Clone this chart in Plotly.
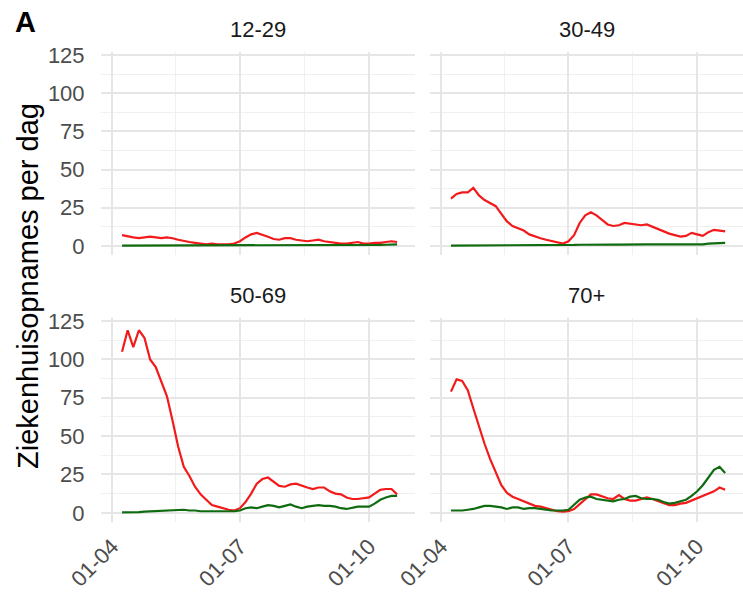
import pandas as pd
import plotly.graph_objects as go
from plotly.subplots import make_subplots

# ---- data -------------------------------------------------------------
start_date = "2021-04-08"
n_points = 50
step = "4D"
dates = pd.date_range(start_date, periods=n_points, freq=step)

panel_titles = ["12-29", "30-49", "50-69", "70+"]
x_tick_dates = ["2021-04-01", "2021-07-01", "2021-10-01"]
y_ticks = [0, 25, 50, 75, 100, 125]

unvacc_12_29 = [7, 6, 5.5, 5, 5.5, 6, 5.5, 5, 5.5, 5,
                4, 3, 2.5, 2, 1.5, 1, 1.5, 1, 1, 1,
                1.5, 3, 5.5, 7.5, 8.5, 7.5, 6, 4.5, 4, 5,
                5, 4, 3.5, 3, 3.5, 4, 3, 2.5, 2, 1.5,
                1.5, 2, 2.5, 1.5, 1.5, 2, 2, 2.5, 3, 2.5]
vacc_12_29 = [0.2, 0.2, 0.2, 0.2, 0.2, 0.2, 0.2, 0.2, 0.2, 0.2,
              0.2, 0.3, 0.3, 0.3, 0.3, 0.3, 0.3, 0.3, 0.3, 0.3,
              0.3, 0.3, 0.4, 0.4, 0.4, 0.4, 0.4, 0.4, 0.4, 0.4,
              0.4, 0.4, 0.4, 0.4, 0.4, 0.4, 0.4, 0.4, 0.4, 0.4,
              0.4, 0.4, 0.4, 0.5, 0.5, 0.5, 0.6, 0.7, 0.8, 0.9]

unvacc_30_49 = [31, 34, 35, 35, 38, 33, 30, 28, 26, 21,
                16, 13, 11.5, 10, 7.5, 6, 5, 4, 3, 2,
                1.5, 3, 7, 15, 20, 22, 20, 17, 14, 13,
                13.5, 15, 14.5, 14, 13.5, 14, 12.5, 11, 9, 8,
                7, 6, 6.5, 8.5, 7.5, 6.5, 9, 10.5, 10, 9.5]
vacc_30_49 = [0.2, 0.2, 0.2, 0.2, 0.2, 0.3, 0.3, 0.3, 0.3, 0.3,
              0.3, 0.3, 0.3, 0.3, 0.3, 0.4, 0.4, 0.4, 0.4, 0.4,
              0.5, 0.5, 0.6, 0.7, 0.8, 0.9, 1.0, 0.9, 0.8, 0.8,
              0.8, 0.9, 0.9, 0.8, 0.8, 0.9, 0.9, 0.9, 0.8, 0.8,
              0.8, 0.7, 0.8, 0.8, 0.9, 1.0, 1.5, 1.8, 2.0, 2.0]

unvacc_50_69 = [105, 119, 108, 119, 114, 100, 95, 85, 76, 60,
                43, 30, 24, 17, 12, 8.5, 5, 4, 3, 2,
                1.5, 3, 7, 12.5, 19, 22, 23, 20, 17.5, 17,
                18.5, 19, 17.5, 16.5, 15.5, 16.5, 16.5, 14, 12.5, 12,
                10, 9, 9, 9.5, 10, 12.5, 15, 15.5, 15.5, 12]
vacc_50_69 = [0.3, 0.3, 0.5, 0.5, 0.8, 1, 1.2, 1.5, 1.5, 2,
              2, 2, 1.5, 1.5, 1, 1, 1, 1, 1, 1,
              1, 1.5, 3, 3.5, 3, 4, 5, 4.5, 3.5, 4.5,
              5.5, 4, 3, 4, 4.5, 5, 4.5, 4.5, 4, 3,
              2.5, 3.5, 4, 4, 4, 6, 8.5, 10, 11, 11]

unvacc_70 = [79, 87, 86, 80, 68, 56, 45, 35, 26, 18,
             13, 10.5, 9, 7.5, 6, 4.5, 4, 3, 2, 1,
             0.8, 1, 2.5, 5.5, 9, 12, 12, 10.5, 9.5, 9,
             11.5, 9, 8, 8, 9, 10, 9, 7.5, 6.5, 5,
             5, 6, 6.5, 8, 9.5, 11, 12.5, 14, 16.5, 15]
vacc_70 = [1.5, 1.5, 1.5, 2, 2.5, 3.5, 4.5, 4.5, 4, 3.5,
           2.5, 3.5, 3.5, 2.5, 3, 3, 2.5, 2, 1.5, 1.5,
           1.5, 2, 5, 8.5, 10, 10.5, 9, 8.5, 8, 7.5,
           8.5, 9, 10.5, 11, 9.5, 9, 9, 8.5, 7, 6,
           6.5, 7.5, 8.5, 11, 14, 18, 23, 28, 30, 26]

unvacc = [unvacc_12_29, unvacc_30_49, unvacc_50_69, unvacc_70]
vacc = [vacc_12_29, vacc_30_49, vacc_50_69, vacc_70]

# ---- styling ---------------------------------------------------------
W, H = 743, 596
ML, MR, MT, MB = 101, 0, 52, 74
PW, PH = W - ML - MR, H - MT - MB
FONT = "Liberation Sans, Arial, Helvetica, sans-serif"
RED = "#f21a1a"
GREEN = "#0f6b0f"

x_domains = [[0, 314 / PW], [329 / PW, 1]]
y_domains = [[1 - 203 / PH, 1], [0, 1 - 266 / PH]]

fig = make_subplots(rows=2, cols=2)

for i, (u, v) in enumerate(zip(unvacc, vacc)):
    r, c = i // 2 + 1, i % 2 + 1
    fig.add_trace(go.Scatter(x=dates, y=u, mode="lines",
                             line=dict(color=RED, width=2.2), showlegend=False),
                  row=r, col=c)
    fig.add_trace(go.Scatter(x=dates, y=v, mode="lines",
                             line=dict(color=GREEN, width=2.2), showlegend=False),
                  row=r, col=c)

for i in range(4):
    r, c = i // 2, i % 2
    idx = "" if i == 0 else str(i + 1)
    fig.layout["xaxis" + idx].update(
        domain=x_domains[c], type="date", automargin=False,
        range=["2021-03-24", "2021-11-02 18:00"],
        tickvals=x_tick_dates, tickformat="%d-%m", tickangle=-45,
        showticklabels=(r == 1),
        ticks="outside", ticklen=2, tickcolor="rgba(0,0,0,0)",
        tickfont=dict(size=22, color="#4d4d4d", family=FONT),
        showgrid=True, gridcolor="#e6e6e6", gridwidth=1.6,
        minor=dict(tickvals=["2021-05-16", "2021-08-16"], showgrid=True,
                   gridcolor="#f0f0f0", gridwidth=0.9),
        zeroline=False, showline=False)
    fig.layout["yaxis" + idx].update(
        domain=y_domains[r], range=[-6, 127], automargin=False,
        tickvals=y_ticks, showticklabels=(c == 0),
        ticks="outside", ticklen=11, tickcolor="rgba(0,0,0,0)",
        tickfont=dict(size=22, color="#4d4d4d", family=FONT),
        showgrid=True, gridcolor="#e6e6e6", gridwidth=1.6,
        minor=dict(tickvals=[12.5, 37.5, 62.5, 87.5, 112.5], showgrid=True,
                   gridcolor="#f0f0f0", gridwidth=0.9),
        zeroline=False, showline=False)

annotations = []
for i, t in enumerate(panel_titles):
    r, c = i // 2, i % 2
    annotations.append(dict(
        text=t, xref="paper", yref="paper",
        x=(x_domains[c][0] + x_domains[c][1]) / 2, y=y_domains[r][1],
        xanchor="center", yanchor="middle", yshift=23, showarrow=False,
        font=dict(size=22, color="#1a1a1a", family=FONT)))

annotations.append(dict(
    text="Ziekenhuisopnames per dag", xref="paper", yref="paper",
    x=(28 - ML) / PW, y=(H - MB - 286) / PH, textangle=-90,
    xanchor="center", yanchor="middle", showarrow=False,
    font=dict(size=29, color="#000000", family=FONT)))

annotations.append(dict(
    text="<b>A</b>", xref="paper", yref="paper",
    x=(25 - ML) / PW, y=(H - MB - 22) / PH,
    xanchor="center", yanchor="middle", showarrow=False,
    font=dict(size=29, color="#000000", family=FONT)))

fig.update_layout(
    width=W, height=H,
    margin=dict(l=ML, r=MR, t=MT, b=MB, pad=0, autoexpand=False),
    paper_bgcolor="white", plot_bgcolor="white",
    annotations=annotations, showlegend=False,
    font=dict(family=FONT),
)

fig.write_html("out.html", config={"displayModeBar": False},
               post_script="document.body.style.margin='0px';")
